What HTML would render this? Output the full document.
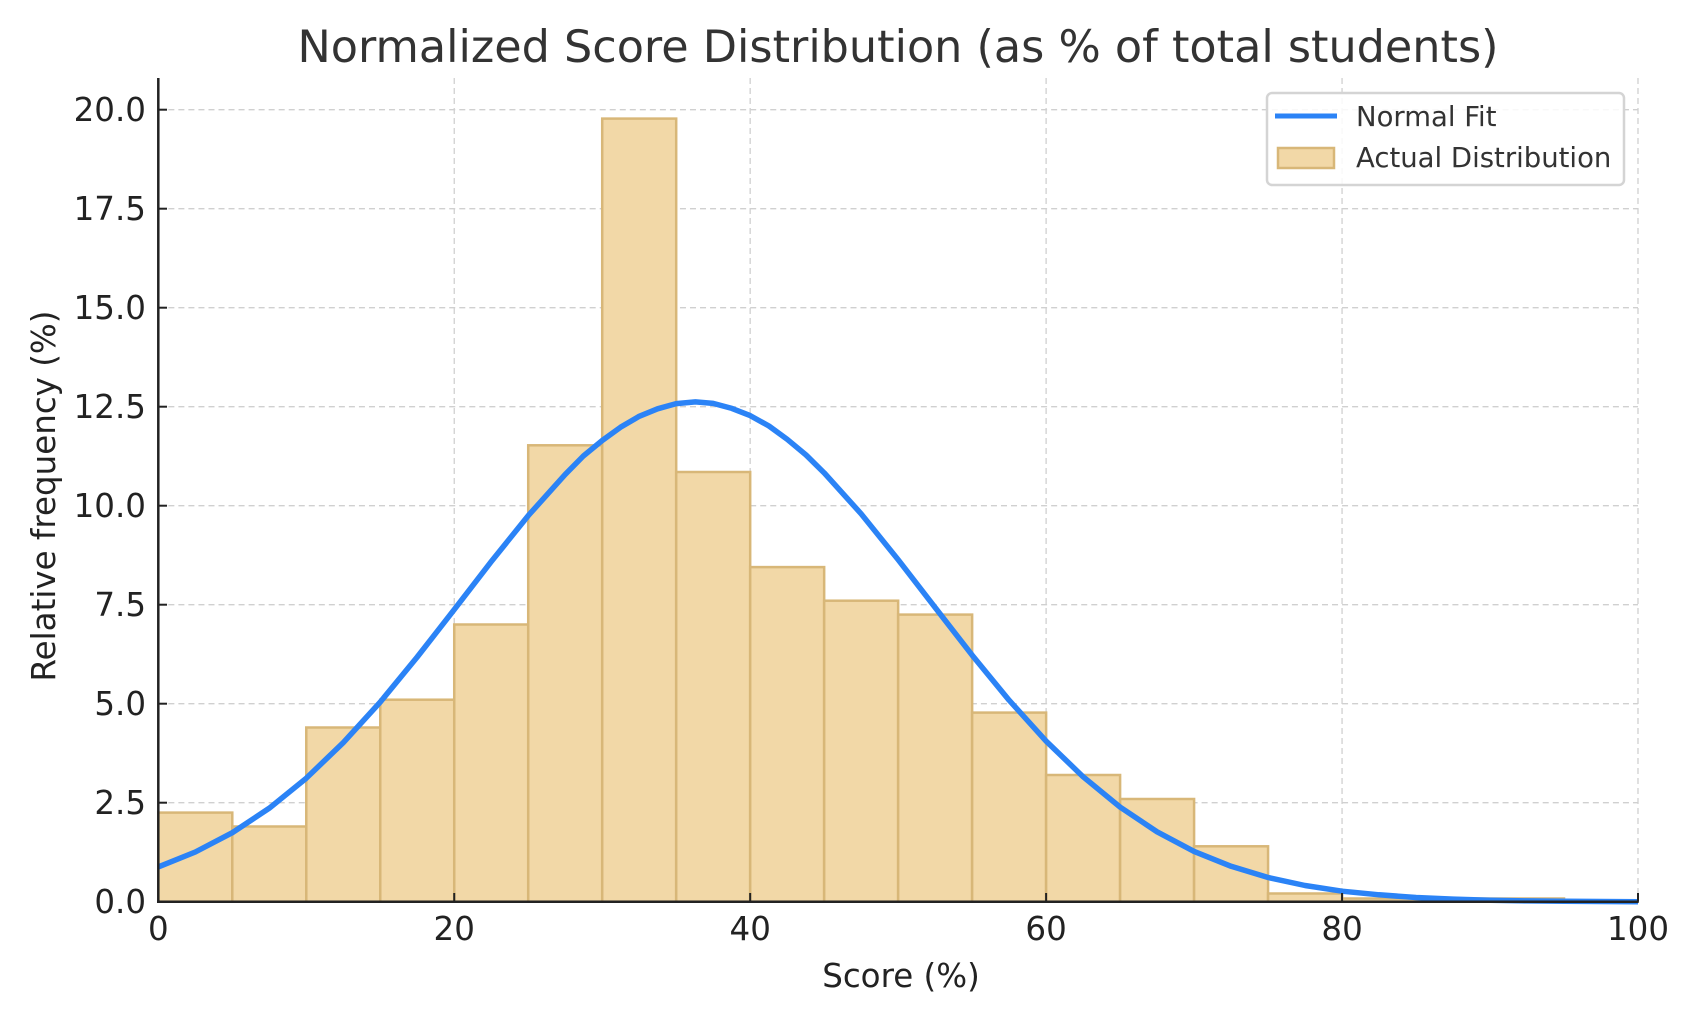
<!DOCTYPE html>
<html><head><meta charset="utf-8"><style>
html,body{margin:0;padding:0;background:#fff;}
svg{display:block;font-family:"DejaVu Sans","Liberation Sans",sans-serif;}
</style></head><body>
<svg width="1700" height="1019" viewBox="0 0 1700 1019" xmlns="http://www.w3.org/2000/svg">
<rect width="1700" height="1019" fill="#fff"/>
<g transform="translate(158.3,0) scale(1.00318,1) translate(-158.3,0)">
<g stroke="#d0d0d0" stroke-width="1.3" stroke-dasharray="6,4">
<line x1="158.3" y1="802.7" x2="1633.3" y2="802.7"/>
<line x1="158.3" y1="703.7" x2="1633.3" y2="703.7"/>
<line x1="158.3" y1="604.7" x2="1633.3" y2="604.7"/>
<line x1="158.3" y1="505.7" x2="1633.3" y2="505.7"/>
<line x1="158.3" y1="406.7" x2="1633.3" y2="406.7"/>
<line x1="158.3" y1="307.7" x2="1633.3" y2="307.7"/>
<line x1="158.3" y1="208.7" x2="1633.3" y2="208.7"/>
<line x1="158.3" y1="109.7" x2="1633.3" y2="109.7"/>
<line x1="453.3" y1="78" x2="453.3" y2="901.7"/>
<line x1="748.3" y1="78" x2="748.3" y2="901.7"/>
<line x1="1043.3" y1="78" x2="1043.3" y2="901.7"/>
<line x1="1338.3" y1="78" x2="1338.3" y2="901.7"/>
<line x1="1633.3" y1="78" x2="1633.3" y2="901.7"/>
</g>
<g fill="#f2d8a7" stroke="#d8b778" stroke-width="2.5">
<rect x="158.3" y="812.6" width="73.75" height="89.1"/>
<rect x="232.05" y="826.5" width="73.75" height="75.2"/>
<rect x="305.8" y="727.5" width="73.75" height="174.2"/>
<rect x="379.55" y="699.7" width="73.75" height="202"/>
<rect x="453.3" y="624.5" width="73.75" height="277.2"/>
<rect x="527.05" y="445.3" width="73.75" height="456.4"/>
<rect x="600.8" y="118.6" width="73.75" height="783.1"/>
<rect x="674.55" y="472" width="73.75" height="429.7"/>
<rect x="748.3" y="567.1" width="73.75" height="334.6"/>
<rect x="822.05" y="600.7" width="73.75" height="301"/>
<rect x="895.8" y="614.6" width="73.75" height="287.1"/>
<rect x="969.55" y="712.6" width="73.75" height="189.1"/>
<rect x="1043.3" y="775.0" width="73.75" height="126.7"/>
<rect x="1117.05" y="799" width="73.75" height="102.7"/>
<rect x="1190.8" y="846.3" width="73.75" height="55.4"/>
<rect x="1264.55" y="893.5" width="73.75" height="8.2"/>
<rect x="1338.3" y="898.5" width="221.25" height="3.2"/>
</g>
<polyline fill="none" stroke="#2b83f6" stroke-width="5.5" stroke-linejoin="round" points="158.3,866.9 195.2,852.0 232.1,832.7 268.9,808.2 305.8,778.2 342.7,742.6 379.6,702.0 416.4,657.0 453.3,609.6 490.2,561.6 527.1,515.6 563.9,474.4 582,456 600.8,440.5 619,427.3 637.7,416.3 656,408.8 674.6,403.6 693.7,401.9 711.4,403.4 730,408.4 748.3,415.6 767,426 785.2,439.3 804,455 822.1,472.9 858.9,513.8 895.8,559.7 932.7,607.6 969.6,655.2 1006.4,700.2 1043.3,741.1 1080.2,776.8 1117.1,807.1 1153.9,831.8 1190.8,851.4 1227.7,866.3 1264.6,877.5 1301.4,885.5 1338.3,891.2 1375.2,894.8 1412.1,897.5 1449,899.1 1485.8,900.2 1522.7,900.9 1559.6,901.3 1633.3,901.7"/>
<g stroke="#222" stroke-width="2.5">
<line x1="158.3" y1="78" x2="158.3" y2="903"/>
<line x1="157" y1="901.7" x2="1634" y2="901.7"/>
</g>
<g stroke="#222" stroke-width="2">
<line x1="158.3" y1="802.7" x2="167" y2="802.7"/><line x1="158.3" y1="703.7" x2="167" y2="703.7"/>
<line x1="158.3" y1="604.7" x2="167" y2="604.7"/><line x1="158.3" y1="505.7" x2="167" y2="505.7"/>
<line x1="158.3" y1="406.7" x2="167" y2="406.7"/><line x1="158.3" y1="307.7" x2="167" y2="307.7"/>
<line x1="158.3" y1="208.7" x2="167" y2="208.7"/><line x1="158.3" y1="109.7" x2="167" y2="109.7"/>
<line x1="453.3" y1="901.7" x2="453.3" y2="893"/><line x1="748.3" y1="901.7" x2="748.3" y2="893"/>
<line x1="1043.3" y1="901.7" x2="1043.3" y2="893"/><line x1="1338.3" y1="901.7" x2="1338.3" y2="893"/>
<line x1="1633.3" y1="901.7" x2="1633.3" y2="893"/>
</g>
</g>
<g fill="#222" font-size="32.5" text-anchor="end">
<text x="146" y="913">0.0</text><text x="146" y="814">2.5</text><text x="146" y="715">5.0</text>
<text x="146" y="616">7.5</text><text x="146" y="517">10.0</text><text x="146" y="418">12.5</text>
<text x="146" y="319">15.0</text><text x="146" y="220">17.5</text><text x="146" y="121">20.0</text>
</g>
<g fill="#222" font-size="32.5" text-anchor="middle">
<text x="158.3" y="940">0</text><text x="454.2" y="940">20</text><text x="750.2" y="940">40</text>
<text x="1046.1" y="940">60</text><text x="1342.1" y="940">80</text><text x="1638" y="940">100</text>
</g>
<text x="901" y="987" font-size="32.5" fill="#222" text-anchor="middle">Score (%)</text>
<text transform="translate(55,496) rotate(-90)" font-size="32.5" fill="#222" text-anchor="middle">Relative frequency (%)</text>
<text x="898" y="62" font-size="44.5" fill="#333" text-anchor="middle">Normalized Score Distribution (as % of total students)</text>
<rect x="1267" y="93" width="357" height="92" rx="5" fill="#fff" fill-opacity="0.85" stroke="#d4d4d4" stroke-width="2.5"/>
<line x1="1275" y1="116" x2="1337" y2="116" stroke="#2b83f6" stroke-width="5"/>
<rect x="1278" y="148" width="56" height="20" fill="#f2d8a7" stroke="#d8b778" stroke-width="2.5"/>
<g fill="#333" font-size="27.5">
<text x="1356" y="126">Normal Fit</text>
<text x="1356" y="167">Actual Distribution</text>
</g>
</svg>
</body></html>
